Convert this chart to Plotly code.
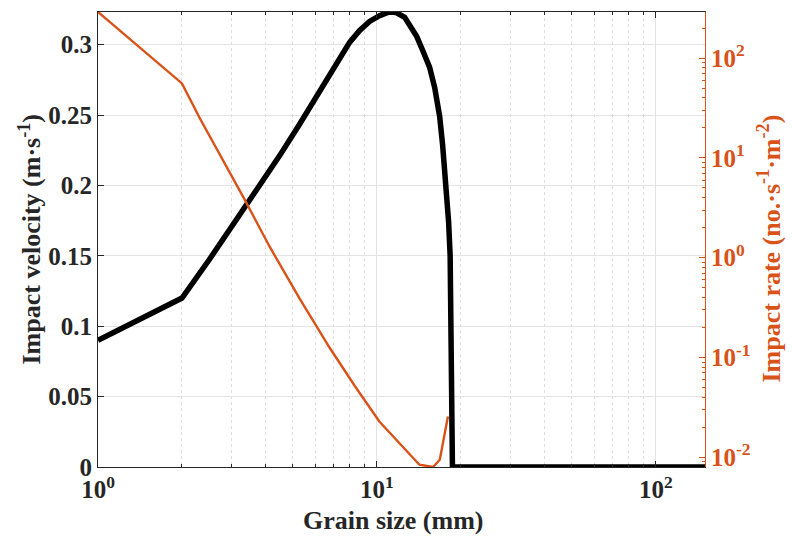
import plotly.graph_objects as go

# Impact velocity (left axis)
vel_size = [1.0, 1.5, 2.0, 2.5, 3.0, 3.5, 4.48, 5.28, 5.98, 6.77, 7.35, 7.98, 8.67, 9.41,
            10.22, 11.01, 11.4, 11.77, 12.57, 13.10, 13.88, 14.58, 15.45, 16.10, 16.78, 17.20,
            17.73, 18.07, 18.30, 18.65, 19.5, 150.0]
vel_value = [0.090, 0.1075, 0.120, 0.147, 0.170, 0.190, 0.2212, 0.2435, 0.2612, 0.2797, 0.2910,
             0.3016, 0.3101, 0.3165, 0.3206, 0.3231, 0.3232, 0.3226, 0.3194, 0.3144, 0.3059,
             0.296, 0.2839, 0.2697, 0.2492, 0.2286, 0.199, 0.174, 0.150, 0.0, 0.0, 0.0]

# Impact rate (right axis, log)
rate_size = [1.0, 2.0, 2.32, 3.36, 4.13, 5.29, 6.77, 8.32, 10.2, 12.05, 14.2, 15.9, 16.8, 17.97]
rate_value = [290, 55.7, 24.8, 3.79, 1.28, 0.386, 0.125, 0.052, 0.0228, 0.01387, 0.00841,
              0.00798, 0.00944, 0.0256]

x_tickvals = [1, 10, 100]
x_ticktext = ["10<sup>0</sup>", "10<sup>1</sup>", "10<sup>2</sup>"]
y_tickvals = [0, 0.05, 0.1, 0.15, 0.2, 0.25, 0.3]
y_ticktext = ["0", "0.05", "0.1", "0.15", "0.2", "0.25", "0.3"]
y2_tickvals = [0.01, 0.1, 1, 10, 100]
y2_ticktext = ["10<sup>-2</sup>", "10<sup>-1</sup>", "10<sup>0</sup>", "10<sup>1</sup>", "10<sup>2</sup>"]

x_title = "Grain size (mm)"
y_title = "Impact velocity (m·s<sup>-1</sup>)"
y2_title = "Impact rate (no.·s<sup>-1</sup>·m<sup>-2</sup>)"

ORANGE = "#D95319"
DARK = "#262626"
FONT = "Liberation Serif"
TICK = 25
TITLE = 26

fig = go.Figure()
fig.add_trace(go.Scatter(x=vel_size, y=vel_value, mode="lines",
                         line=dict(color="black", width=5.5), yaxis="y", showlegend=False))
fig.add_trace(go.Scatter(x=rate_size, y=rate_value, mode="lines",
                         line=dict(color=ORANGE, width=2.4), yaxis="y2", showlegend=False))

fig.update_layout(
    width=792, height=537,
    margin=dict(l=98, r=87, t=12, b=70, pad=0),
    paper_bgcolor="white", plot_bgcolor="white",
    font=dict(family=FONT, size=TICK, color=DARK),
    xaxis=dict(
        type="log", range=[0, 2.1761], automargin=False,
        tickvals=x_tickvals, ticktext=x_ticktext,
        tickfont=dict(family=FONT, size=TICK, color=DARK, weight="bold"),
        ticks="inside", ticklen=6, tickcolor=DARK,
        showline=True, linecolor=DARK, linewidth=1, mirror="ticks",
        showgrid=True, gridcolor="#e3e3e3", gridwidth=1,
        minor=dict(dtick="D1", ticks="inside", ticklen=3, tickcolor=DARK,
                   showgrid=True, gridcolor="#dddddd", griddash="dot", gridwidth=1),
        zeroline=False,
    ),
    yaxis=dict(
        range=[0, 0.3232], automargin=False,
        tickvals=y_tickvals, ticktext=y_ticktext,
        tickfont=dict(family=FONT, size=TICK, color=DARK, weight="bold"),
        ticks="inside", ticklen=6, tickcolor=DARK,
        showline=True, linecolor=DARK, linewidth=1,
        showgrid=True, gridcolor="#e3e3e3", gridwidth=1,
        zeroline=False,
    ),
    yaxis2=dict(
        type="log", range=[-2.098, 2.462], overlaying="y", side="right", automargin=False,
        tickvals=y2_tickvals, ticktext=y2_ticktext,
        tickfont=dict(family=FONT, size=TICK, color=ORANGE, weight="bold"),
        ticks="inside", ticklen=6, tickcolor=ORANGE,
        showline=True, linecolor=ORANGE, linewidth=1,
        showgrid=False,
        minor=dict(dtick="D1", ticks="inside", ticklen=3, tickcolor=ORANGE, showgrid=False),
        zeroline=False,
    ),
    annotations=[
        dict(text=x_title, xref="paper", yref="paper", x=0.487, y=-0.117,
             xanchor="center", yanchor="middle", showarrow=False,
             font=dict(family=FONT, size=TITLE, color=DARK, weight="bold")),
        dict(text=y_title, xref="paper", yref="paper", x=-0.112, y=0.5, textangle=-90,
             xanchor="center", yanchor="middle", showarrow=False,
             font=dict(family=FONT, size=TITLE, color=DARK, weight="bold")),
        dict(text=y2_title, xref="paper", yref="paper", x=1.107, y=0.48, textangle=-90,
             xanchor="center", yanchor="middle", showarrow=False,
             font=dict(family=FONT, size=TITLE, color=ORANGE, weight="bold")),
    ],
)

fig.write_html("out.html", config={"displayModeBar": False},
               post_script="document.body.style.margin='0';document.body.style.padding='0';")
